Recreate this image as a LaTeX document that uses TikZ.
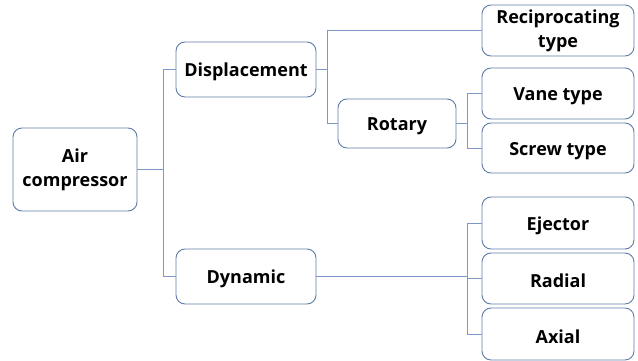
\documentclass[tikz,border=0pt]{standalone}
\usepackage{fontspec}
\setmainfont{Open Sans}
\begin{document}
\begin{tikzpicture}[x=1pt,y=-1pt,
  box/.style={draw=boxline, line width=0.9pt, rounded corners=9pt, fill=white,
    align=center, font=\bfseries\fontsize{18}{24}\selectfont, inner sep=0pt,
    execute at begin node={\rule{0pt}{19pt}}},
  link/.style={draw=linkline, line width=0.9pt}]
\definecolor{boxline}{RGB}{96,124,168}
\definecolor{linkline}{RGB}{125,152,200}
\useasboundingbox (0,0) rectangle (638,361);
% boxes
\node[box, minimum width=124pt, minimum height=83pt] (air) at (75,169.5) {Air\\compressor};
\node[box, minimum width=140pt, minimum height=55pt] (disp) at (246,69.5) {Displacement};
\node[box, minimum width=140pt, minimum height=55pt] (dyn) at (246,276.5) {Dynamic};
\node[box, minimum width=118pt, minimum height=49pt] (rot) at (397,123.5) {Rotary};
\node[box, minimum width=152pt, minimum height=51pt] (recip) at (558,30.5) {Reciprocating\\type};
\node[box, minimum width=152pt, minimum height=51pt] (vane) at (558,93.5) {Vane type};
\node[box, minimum width=152pt, minimum height=50pt] (screw) at (558,148) {Screw type};
\node[box, minimum width=152pt, minimum height=52pt] (eject) at (558,223) {Ejector};
\node[box, minimum width=152pt, minimum height=51pt] (radial) at (558,278.5) {Radial};
\node[box, minimum width=152pt, minimum height=52pt] (axial) at (558,334) {Axial};
% bus lines
\coordinate (b1) at (163,0);
\coordinate (b2) at (327,0);
\coordinate (b3) at (467,0);
% air compressor branches
\draw[link] (air.east) -- (air.east -| b1);
\draw[link] (disp.west) -- (disp.west -| b1) -- (dyn.west -| b1) -- (dyn.west);
% displacement branches
\draw[link] (disp.east) -- (disp.east -| b2);
\draw[link] (recip.west) -- (recip.west -| b2) -- (rot.west -| b2) -- (rot.west);
% rotary branches
\draw[link] (rot.east) -- (rot.east -| b3);
\draw[link] (vane.west) -- (vane.west -| b3) -- (screw.west -| b3) -- (screw.west);
% dynamic branches
\draw[link] (dyn.east) -- (dyn.east -| b3);
\draw[link] (eject.west) -- (eject.west -| b3) -- (axial.west -| b3) -- (axial.west);
\draw[link] (radial.west) -- (radial.west -| b3);
\end{tikzpicture}
\end{document}
